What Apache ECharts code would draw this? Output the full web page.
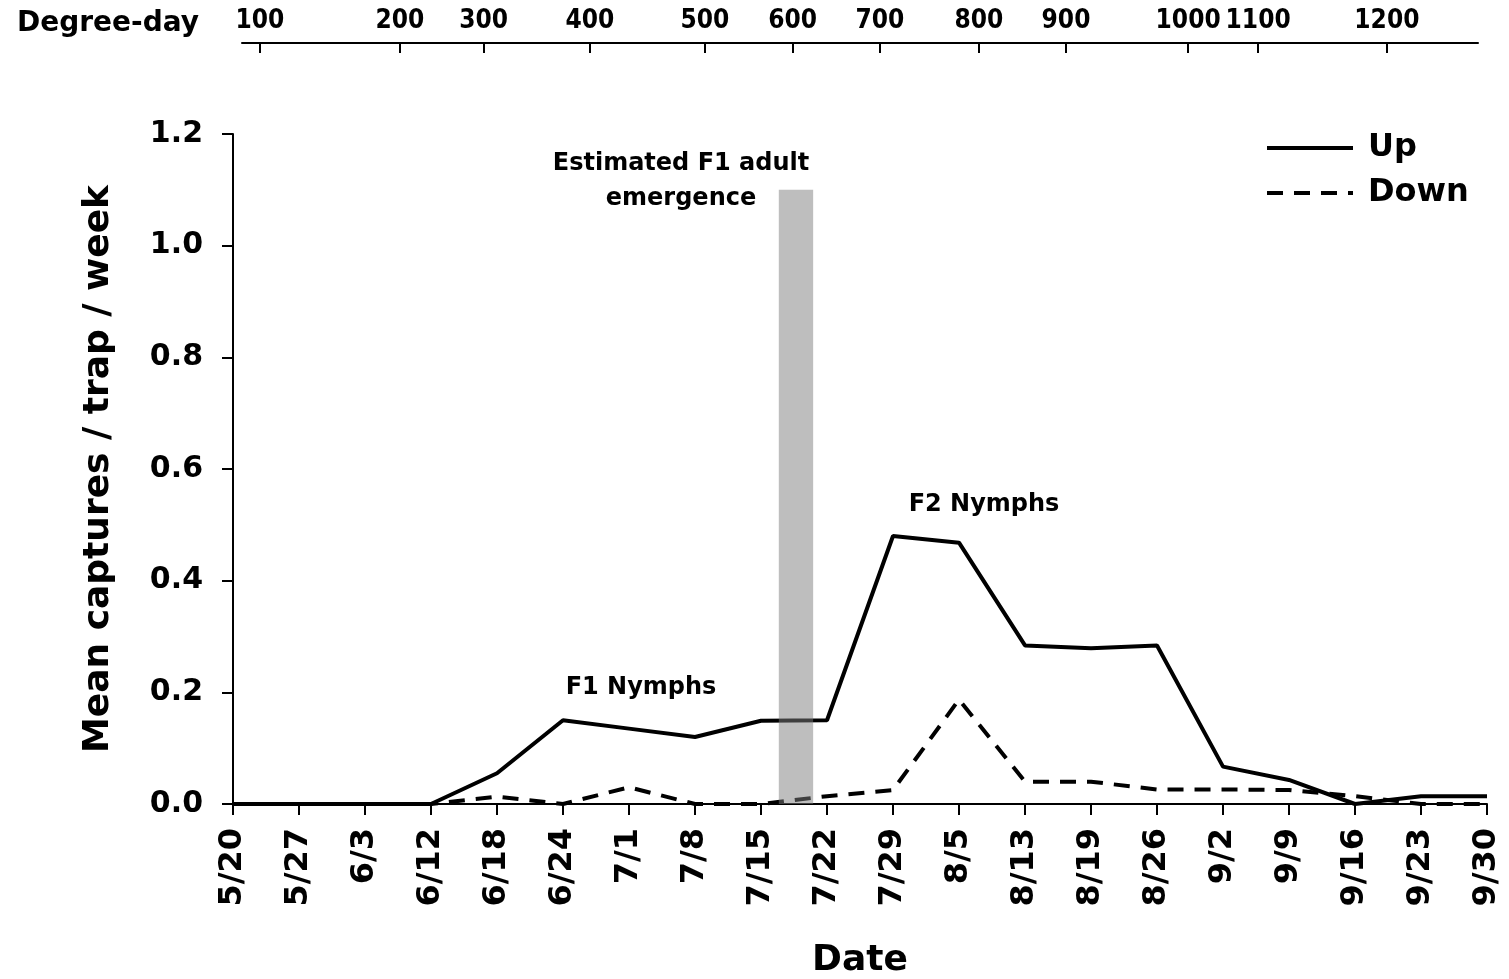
<!DOCTYPE html>
<html>
<head>
<meta charset="utf-8">
<script src="https://cdn.jsdelivr.net/npm/echarts@6/dist/echarts.min.js"></script>
<style>
  html, body { margin: 0; padding: 0; background: #fff; }
  #chart { width: 1509px; height: 979px; }
</style>
</head>
<body>
<div id="chart"></div>
<script>
// sampling dates
const dates = ['5/20', '5/27', '6/3', '6/12', '6/18', '6/24', '7/1', '7/8', '7/15', '7/22',
  '7/29', '8/5', '8/13', '8/19', '8/26', '9/2', '9/9', '9/16', '9/23', '9/30']
const upValues = [0, 0, 0, 0, 0.055, 0.15, 0.135, 0.12, 0.149, 0.15,
  0.48, 0.468, 0.284, 0.279, 0.284, 0.067, 0.043, 0, 0.014, 0.014]
const downValues = [0, 0, 0, 0, 0.013, 0, 0.03, 0, 0, 0.014,
  0.025, 0.187, 0.04, 0.04, 0.026, 0.026, 0.025, 0.014, 0, 0]
// degree-day ticks, position given in date-index units
const degreeDays = [100, 200, 300, 400, 500, 600, 700, 800, 900, 1000, 1100, 1200]
const degreeDayPos = [0.41, 2.53, 3.80, 5.41, 7.15, 8.48, 9.80, 11.30, 12.62, 14.47, 15.53, 17.48]
// estimated F1 adult emergence window (date-index units)
const emergence = [8.27, 8.79]
const emergenceTop = 1.1

const FONT = 'DejaVu Sans'
let myChart = echarts.init(document.getElementById('chart'))

function note (text, x, y) {
  return {
    type: 'text', x: x, y: y,
    style: { text: text, fontFamily: FONT, fontWeight: 'bold', fontSize: 24, fill: '#000', textAlign: 'center', textVerticalAlign: 'middle' }
  }
}

let option = {
  animation: false,
  title: {
    text: 'Degree-day',
    left: 12,
    top: 5,
    textStyle: { fontFamily: FONT, fontWeight: 'bold', fontSize: 28, color: '#000' }
  },
  legend: {
    data: ['Up', 'Down'],
    orient: 'vertical',
    left: 1260,
    top: 127,
    itemWidth: 86,
    itemHeight: 14,
    itemGap: 13,
    itemStyle: { opacity: 0 },
    lineStyle: { width: 4 },
    textStyle: { fontFamily: FONT, fontWeight: 'bold', fontSize: 32, color: '#000', padding: [0, 0, 0, 10] }
  },
  grid: [
    { left: 233, right: 22, top: 134, bottom: 175, outerBoundsMode: 'none' },
    { left: 242, right: 31, top: 42, height: 1, outerBoundsMode: 'none' }
  ],
  xAxis: [
    {
      type: 'category',
      gridIndex: 0,
      boundaryGap: false,
      data: dates,
      name: 'Date',
      nameLocation: 'middle',
      nameGap: 139,
      nameTextStyle: { fontFamily: FONT, fontWeight: 'bold', fontSize: 36, color: '#000' },
      axisLine: { lineStyle: { color: '#000', width: 2 } },
      axisTick: { alignWithLabel: true, length: 11, lineStyle: { color: '#000', width: 2 } },
      axisLabel: { interval: 0, rotate: 90, margin: 24, fontFamily: FONT, fontWeight: 'bold', fontSize: 32, color: '#000' },
      splitLine: { show: false }
    },
    {
      // hidden helper axis for the emergence band
      type: 'value',
      gridIndex: 0,
      min: 0,
      max: dates.length - 1,
      show: false
    },
    {
      type: 'value',
      gridIndex: 1,
      position: 'top',
      min: 0.14,
      max: 18.86,
      axisLine: { show: true, lineStyle: { color: '#000', width: 2 } },
      axisTick: { show: true, inside: true, length: 10, customValues: degreeDayPos, lineStyle: { color: '#000', width: 2 } },
      axisLabel: {
        show: true,
        margin: 8,
        customValues: degreeDayPos,
        fontFamily: 'DejaVu Sans Condensed',
        fontWeight: 'bold',
        fontSize: 26,
        color: '#000',
        formatter: (v) => {
          let best = 0
          degreeDayPos.forEach((p, i) => {
            if (Math.abs(p - v) < Math.abs(degreeDayPos[best] - v)) best = i
          })
          return String(degreeDays[best])
        }
      },
      splitLine: { show: false }
    }
  ],
  yAxis: [
    {
      type: 'value',
      gridIndex: 0,
      min: 0,
      max: 1.2,
      interval: 0.2,
      name: 'Mean captures / trap / week',
      nameLocation: 'middle',
      nameGap: 116,
      nameTextStyle: { fontFamily: FONT, fontWeight: 'bold', fontSize: 36, color: '#000' },
      axisLine: { show: true, lineStyle: { color: '#000', width: 2 } },
      axisTick: { show: true, length: 11, lineStyle: { color: '#000', width: 2 } },
      axisLabel: {
        margin: 30,
        fontFamily: FONT,
        fontWeight: 'bold',
        fontSize: 30,
        color: '#000',
        formatter: (v) => v.toFixed(1)
      },
      splitLine: { show: false }
    },
    { type: 'value', gridIndex: 1, min: 0, max: 1, show: false }
  ],
  graphic: [
    note('Estimated F1 adult', 681, 164),
    note('emergence', 681, 199),
    note('F1 Nymphs', 641, 688),
    note('F2 Nymphs', 984, 505)
  ],
  series: [
    {
      name: 'Up',
      type: 'line',
      xAxisIndex: 0,
      yAxisIndex: 0,
      symbol: 'none',
      z: 2,
      lineStyle: { color: '#000', width: 4 },
      itemStyle: { color: '#000' },
      data: upValues
    },
    {
      name: 'Down',
      type: 'line',
      xAxisIndex: 0,
      yAxisIndex: 0,
      symbol: 'none',
      z: 2,
      lineStyle: { color: '#000', width: 4, type: [16, 11] },
      itemStyle: { color: '#000' },
      data: downValues
    },
    {
      name: 'band',
      type: 'line',
      xAxisIndex: 1,
      yAxisIndex: 0,
      symbol: 'none',
      data: [],
      markArea: {
        silent: true,
        z: 5,
        itemStyle: { color: 'rgba(125,125,125,0.5)' },
        data: [[{ coord: [emergence[0], 0] }, { coord: [emergence[1], emergenceTop] }]]
      }
    }
  ]
}
myChart.setOption(option)
</script>
</body>
</html>
